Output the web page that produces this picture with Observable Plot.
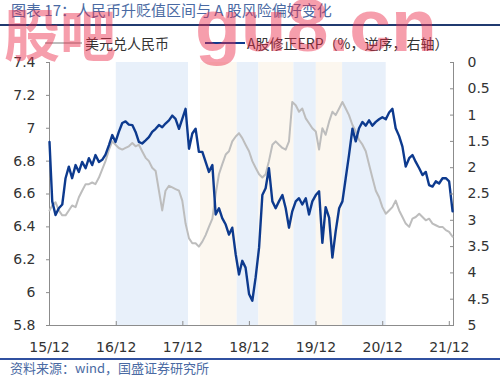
<!DOCTYPE html>
<html>
<head>
<meta charset="utf-8">
<script src="https://cdn.jsdelivr.net/npm/d3@7"></script>
<script src="https://cdn.jsdelivr.net/npm/@observablehq/plot@0.6"></script>
<style>
  html, body { margin: 0; padding: 0; background: #fff; }
  #wrap { position: relative; width: 500px; height: 376px; overflow: hidden; font-family: "Noto Sans CJK SC", "DejaVu Sans", sans-serif; }
  #title { position: absolute; left: 11px; top: 1px; font-size: 15px; color: #4a6aa3; white-space: nowrap; line-height: 18px; }
  #titleRule { position: absolute; left: 0; right: 0; top: 24px; height: 2px; background: #203a70; }
  #legend { position: absolute; top: 34px; left: 0; width: 500px; height: 18px; font-size: 14px; color: #333; }
  .lg { position: absolute; top: 0; line-height: 18px; white-space: nowrap; }
  .sw { position: absolute; top: 8px; height: 0; }
  #chart { position: absolute; left: 0; top: 48px; }
  #capRule { position: absolute; left: 0; right: 0; top: 358px; height: 2px; background: #3050a0; }
  #caption { position: absolute; left: 10px; top: 359px; font-size: 13px; color: #4a6aa3; white-space: nowrap; line-height: 17px; }
  .wm { position: absolute; color: rgba(235, 40, 70, 0.45); font-weight: bold; line-height: 1; white-space: nowrap; pointer-events: none; }
</style>
</head>
<body>
<div id="wrap">
  <div id="title">图表 17：人民币升贬值区间与 A 股风险偏好变化</div>
  <div id="titleRule"></div>
  <div id="legend"></div>
  <div id="chart"></div>
  <div id="capRule"></div>
  <div id="caption">资料来源：wind，国盛证券研究所</div>
  <div class="wm" style="left:4px; top:4px; font-size:56px; font-family:'Noto Sans CJK SC';">股吧</div>
  <div class="wm" style="left:195px; top:-12px; font-size:75px; font-family:'Liberation Sans';">gu8.cn</div>
</div>
<script>
// ---- data ----
const dates = [
"2015-12-01","2015-12-16","2016-01-03","2016-01-21","2016-02-09","2016-02-27","2016-03-16","2016-04-03","2016-04-22","2016-05-10",
"2016-05-28","2016-06-16","2016-07-04","2016-07-22","2016-08-09","2016-08-28","2016-09-15","2016-10-03","2016-10-22","2016-11-09",
"2016-11-27","2016-12-15","2017-01-03","2017-01-21","2017-02-08","2017-02-27","2017-03-17","2017-04-04","2017-04-22","2017-05-11",
"2017-05-29","2017-06-16","2017-07-05","2017-07-23","2017-08-10","2017-08-28","2017-09-16","2017-10-04","2017-10-22","2017-11-10",
"2017-11-28","2017-12-16","2018-01-04","2018-01-22","2018-02-09","2018-02-27","2018-03-18","2018-04-05","2018-04-23","2018-05-12",
"2018-05-30","2018-06-17","2018-07-05","2018-07-24","2018-08-11","2018-08-29","2018-09-17","2018-10-05","2018-10-23","2018-11-10",
"2018-11-29","2018-12-17","2019-01-04","2019-01-23","2019-02-10","2019-02-28","2019-03-18","2019-04-06","2019-04-24","2019-05-12",
"2019-05-31","2019-06-18","2019-07-06","2019-07-24","2019-08-12","2019-08-30","2019-09-17","2019-10-06","2019-10-24","2019-11-11",
"2019-11-30","2019-12-18","2020-01-05","2020-01-23","2020-02-11","2020-02-29","2020-03-18","2020-04-06","2020-04-24","2020-05-12",
"2020-05-30","2020-06-18","2020-07-06","2020-07-24","2020-08-12","2020-08-30","2020-09-17","2020-10-05","2020-10-24","2020-11-11",
"2020-11-29","2020-12-18","2021-01-05","2021-01-23","2021-02-10","2021-03-01","2021-03-19","2021-04-06","2021-04-25","2021-05-13",
"2021-05-31","2021-06-19","2021-07-07","2021-07-25","2021-08-12","2021-08-31","2021-09-18","2021-10-06","2021-10-25","2021-11-12",
"2021-11-30","2021-12-19"];

// 美元兑人民币 (left axis)
const usdcny = [
6.50,6.53,6.55,6.50,6.47,6.47,6.50,6.53,6.52,6.58,
6.62,6.66,6.66,6.67,6.66,6.70,6.75,6.80,6.87,6.92,
6.90,6.88,6.87,6.88,6.89,6.91,6.89,6.90,6.86,6.82,
6.80,6.76,6.74,6.62,6.50,6.62,6.65,6.64,6.63,6.62,
6.56,6.42,6.33,6.30,6.30,6.28,6.31,6.35,6.40,6.45,
6.60,6.72,6.78,6.84,6.86,6.92,6.95,6.97,6.94,6.90,
6.86,6.80,6.76,6.72,6.70,6.72,6.80,6.90,6.92,6.90,
6.88,6.87,6.92,7.16,7.14,7.10,7.12,7.06,7.03,7.00,
6.98,6.87,7.00,6.96,7.04,7.10,7.08,7.12,7.16,7.12,
7.08,7.02,6.98,6.93,6.90,6.86,6.78,6.70,6.62,6.58,
6.52,6.48,6.50,6.52,6.56,6.50,6.46,6.42,6.40,6.45,
6.46,6.48,6.46,6.44,6.45,6.42,6.41,6.40,6.40,6.38,
6.37,6.34];

// A股修正ERP (%, reversed, right axis)
const erp = [
1.51,2.64,2.90,2.77,2.70,2.20,1.98,2.20,1.95,2.08,
1.89,2.01,1.82,1.95,1.76,1.89,1.85,1.75,1.57,1.38,
1.51,1.32,1.15,1.12,1.18,1.19,1.32,1.51,1.54,1.48,
1.42,1.32,1.26,1.19,1.23,1.16,1.10,1.01,1.07,1.26,
1.07,0.88,1.64,1.35,1.26,1.70,1.70,1.89,2.08,1.95,
2.89,2.77,2.96,3.08,3.27,3.14,3.65,4.03,3.77,3.90,
4.40,4.53,4.09,3.52,2.52,2.39,2.01,2.64,2.77,2.64,
2.52,2.77,3.14,2.83,2.64,2.58,2.70,2.58,2.89,2.64,
2.52,2.45,3.43,2.75,2.95,3.71,3.21,2.77,2.64,2.20,
1.76,1.26,1.50,1.25,1.13,1.20,1.10,1.20,1.13,1.08,
1.04,1.08,0.95,0.88,1.25,1.40,1.60,1.98,1.82,1.76,
1.89,2.01,2.14,2.08,2.33,2.36,2.26,2.30,2.20,2.20,
2.26,2.83];

// shaded periods: 升值 (blue) / 贬值 (beige)
const bandStart = ["2016-12-01","2018-03-08","2018-09-25","2019-01-22","2019-08-02","2019-12-03","2020-04-25"];
const bandEnd   = ["2018-01-01","2018-09-25","2019-01-22","2019-08-02","2019-12-03","2020-04-25","2020-12-20"];
const bandKind  = ["升值","贬值","升值","贬值","升值","贬值","升值"];

// axes
const xDomain = ["2015-12-01","2021-12-24"];
const xTicks = ["2015-12-01","2016-12-01","2017-12-01","2018-12-01","2019-12-01","2020-12-01","2021-12-01"];
const xLabels = ["15/12","16/12","17/12","18/12","19/12","20/12","21/12"];
const leftDomain = [5.8, 7.4];
const leftTicks = [5.8, 6.0, 6.2, 6.4, 6.6, 6.8, 7.0, 7.2, 7.4];
const leftLabels = ["5.8","6","6.2","6.4","6.6","6.8","7","7.2","7.4"];
const rightDomain = [0, 5];
const rightTicks = [0, 0.5, 1, 1.5, 2, 2.5, 3, 3.5, 4, 4.5, 5];
const rightLabels = ["0","0.5","1","1.5","2","2.5","3","3.5","4","4.5","5"];

const seriesNames = ["美元兑人民币", "A股修正ERP（%，逆序，右轴）"];
const seriesColors = ["#bdbdbd", "#0d3a8e"];
const bandColors = {"升值": "#e8f0fa", "贬值": "#fcf7ef"};

// ---- build ----
const parse = d3.utcParse("%Y-%m-%d");
const toLeft = e => leftDomain[1] - (e - rightDomain[0]) / (rightDomain[1] - rightDomain[0]) * (leftDomain[1] - leftDomain[0]);

const rows = dates.map((d, i) => ({date: parse(d), usd: usdcny[i], erp: erp[i]}));
const bands = bandStart.map((s, i) => ({start: parse(s), end: parse(bandEnd[i]), kind: bandKind[i]}));
const xT = xTicks.map(parse);
const xLab = new Map(xT.map((d, i) => [+d, xLabels[i]]));
const lLab = new Map(leftTicks.map((t, i) => [t, leftLabels[i]]));
const rT = rightTicks.map(toLeft);
const rLab = new Map(rT.map((t, i) => [t, rightLabels[i]]));
const xD = xDomain.map(parse);

const axisColor = "#8c8c8c";
const chart = Plot.plot({
  width: 500, height: 308,
  marginLeft: 49, marginRight: 47, marginTop: 14, marginBottom: 31,
  style: {fontFamily: "DejaVu Sans", fontSize: "14px", color: "#333", background: "transparent", overflow: "visible"},
  x: {type: "utc", domain: xD},
  y: {domain: leftDomain},
  marks: [
    Plot.rectY(bands, {x1: "start", x2: "end", y1: leftDomain[0], y2: leftDomain[1], fill: d => bandColors[d.kind]}),
    Plot.ruleX([xD[0]], {stroke: axisColor, strokeWidth: 1}),
    Plot.ruleX([xD[1]], {stroke: axisColor, strokeWidth: 1}),
    Plot.ruleY([leftDomain[0]], {stroke: axisColor, strokeWidth: 1}),
    Plot.lineY(rows, {x: "date", y: "usd", stroke: seriesColors[0], strokeWidth: 2}),
    Plot.lineY(rows, {x: "date", y: d => toLeft(d.erp), stroke: seriesColors[1], strokeWidth: 2.4}),
    Plot.axisY({ticks: leftTicks, tickFormat: d => lLab.get(d), tickSize: 3, tickPadding: 11, stroke: axisColor, label: null}),
    Plot.axisY({anchor: "right", ticks: rT, tickFormat: d => rLab.get(d), tickSize: -4, tickPadding: 18, stroke: axisColor, label: null, textAnchor: "start"}),
    Plot.axisX({ticks: xT, tickFormat: d => xLab.get(+d), tickSize: -4, tickPadding: 21, stroke: axisColor, label: null})
  ]
});
document.getElementById("chart").appendChild(chart);

// legend
const lg = document.getElementById("legend");
const legendItems = [
  {x1: 45, x2: 82, tx: 85, w: 2},
  {x1: 205, x2: 245, tx: 247, w: 2.5}
];
seriesNames.forEach((name, i) => {
  const it = legendItems[i];
  const sw = document.createElement("div");
  sw.className = "sw";
  sw.style.left = it.x1 + "px";
  sw.style.width = (it.x2 - it.x1) + "px";
  sw.style.borderTop = it.w + "px solid " + seriesColors[i];
  lg.appendChild(sw);
  const t = document.createElement("div");
  t.className = "lg";
  t.style.left = it.tx + "px";
  t.textContent = name;
  lg.appendChild(t);
});
</script>
</body>
</html>
